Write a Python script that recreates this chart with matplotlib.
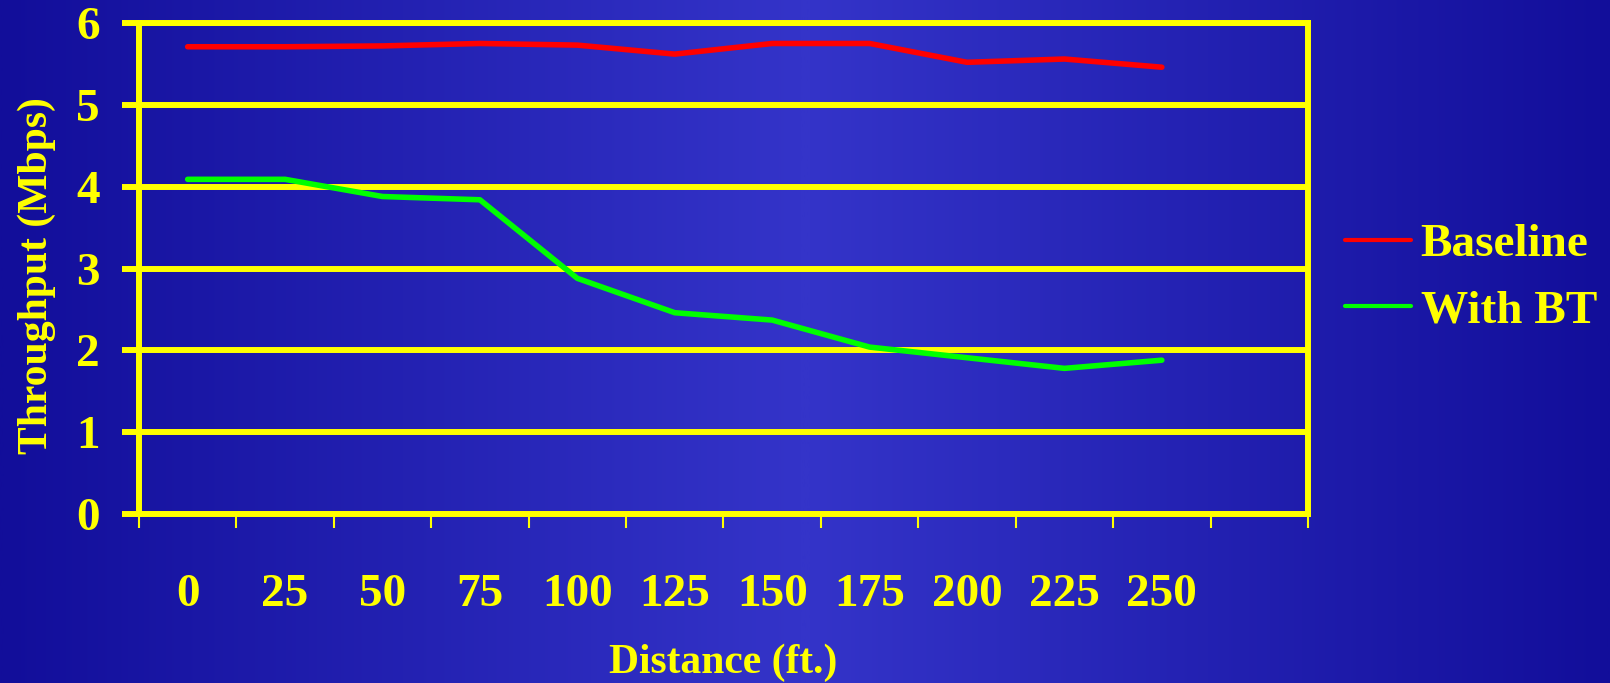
import matplotlib.pyplot as plt
import numpy as np
from matplotlib.colors import LinearSegmentedColormap

plt.rcParams["font.family"] = ["Liberation Serif", "DejaVu Serif"]
plt.rcParams["font.weight"] = "bold"
plt.rcParams["axes.labelweight"] = "bold"

# throughput vs. distance, one value per distance step
distances = ["0", "25", "50", "75", "100", "125", "150", "175", "200", "225", "250"]
baseline = [5.71, 5.71, 5.72, 5.75, 5.73, 5.62, 5.75, 5.75, 5.52, 5.56, 5.46]
with_bt = [4.09, 4.09, 3.88, 3.84, 2.88, 2.46, 2.37, 2.04, 1.91, 1.78, 1.88]
y_ticks = [0, 1, 2, 3, 4, 5, 6]

YELLOW = "#ffff00"
EDGE_BLUE = "#120e9a"
MID_BLUE = "#3434c9"

fig = plt.figure(figsize=(16.1, 6.83), dpi=100)
fig.patch.set_facecolor(EDGE_BLUE)

# slide-style background: dark at both sides, lighter in the middle
bg = fig.add_axes([0, 0, 1, 1], zorder=-1)
xs = np.linspace(0, 1, 600)
ramp = 1 - np.abs(xs - 0.5) / 0.5
cmap = LinearSegmentedColormap.from_list("slide", [EDGE_BLUE, MID_BLUE])
bg.imshow(ramp[np.newaxis, :], aspect="auto", cmap=cmap, extent=[0, 1, 0, 1])
bg.axis("off")

ax = fig.add_axes([0.0863, 0.2474, 0.7261, 0.7189])
ax.set_facecolor("none")

x = np.arange(len(distances))
ax.plot(x, baseline, color="#ff0000", linewidth=4, solid_capstyle="round",
        label="Baseline", zorder=3)
ax.plot(x, with_bt, color="#00ff00", linewidth=4, solid_capstyle="round",
        label="With BT", zorder=3)

ax.set_xlim(-0.5, len(distances) + 0.5)
ax.set_ylim(0, 6)

# category boundaries get the small tick marks, centres get the labels
ax.set_xticks(np.arange(-0.5, len(distances) + 1, 1))
ax.set_xticks(x, minor=True)
ax.set_xticklabels(distances, minor=True)
ax.tick_params(axis="x", which="major", direction="out", length=10, width=1.5,
               color=YELLOW, labelbottom=False)
ax.tick_params(axis="x", which="minor", length=0, pad=43, labelsize=34,
               labelcolor=YELLOW)

ax.set_yticks(y_ticks)
ax.tick_params(axis="y", which="major", direction="out", length=12, width=4.3,
               color=YELLOW, pad=16, labelsize=34, labelcolor=YELLOW)

ax.yaxis.grid(True, color=YELLOW, linewidth=4.3)
ax.xaxis.grid(False)
ax.set_axisbelow(True)

for side in ["left", "right", "top", "bottom"]:
    ax.spines[side].set_color(YELLOW)
    ax.spines[side].set_linewidth(4.3)

ax.set_xlabel("Distance (ft.)", fontsize=30, fontweight="bold", color=YELLOW,
              labelpad=20)
ax.set_ylabel("Throughput (Mbps)", fontsize=30, fontweight="bold", color=YELLOW)
ax.yaxis.set_label_coords(-0.071, 0.485)

leg = fig.legend(loc="center left", bbox_to_anchor=(0.8354, 0.593),
                 frameon=False, fontsize=34, handlelength=1.4,
                 handletextpad=0.2, labelspacing=0.5, borderpad=0,
                 borderaxespad=0)
for line in leg.get_lines():
    line.set_linewidth(3)
for text in leg.get_texts():
    text.set_color(YELLOW)

fig.savefig("out.png", dpi=100, facecolor=fig.get_facecolor())
